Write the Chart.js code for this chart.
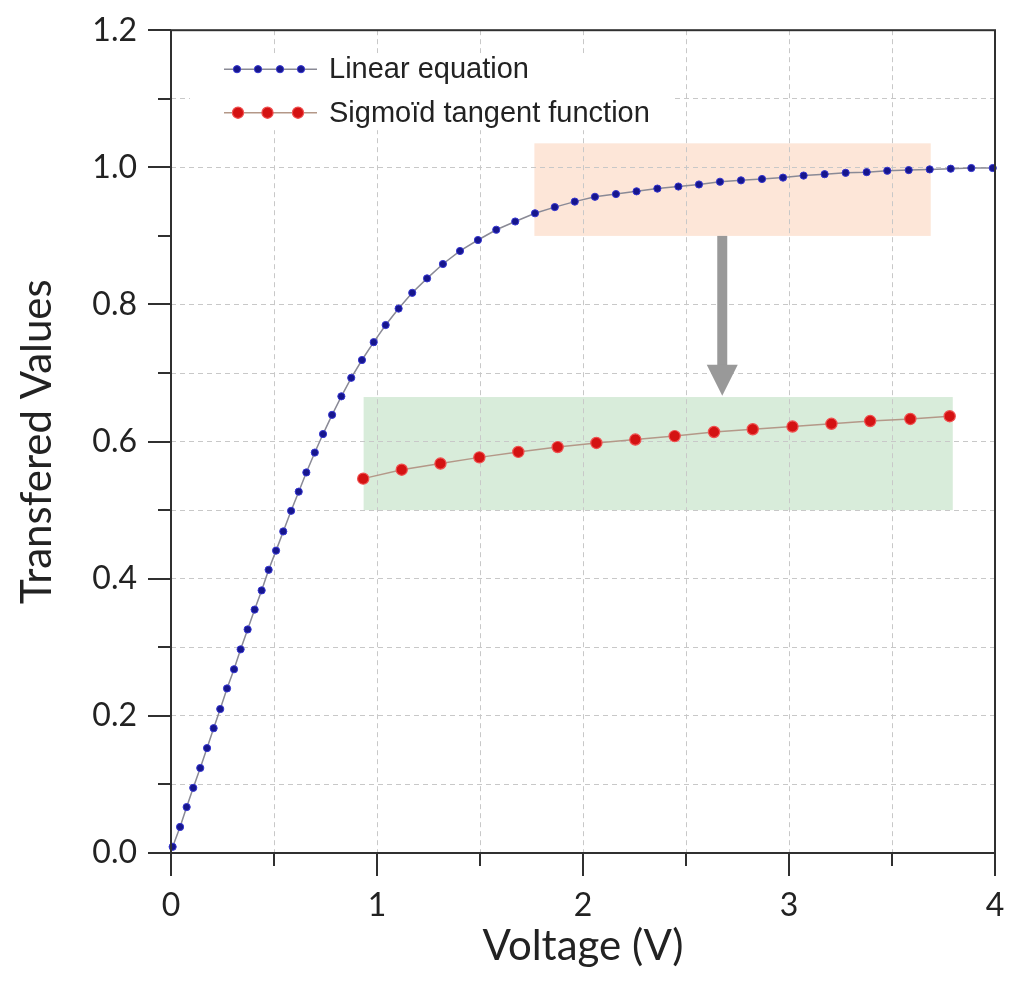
<!DOCTYPE html>
<html>
<head>
<meta charset="utf-8">
<script src="https://cdn.jsdelivr.net/npm/chart.js@4.4.0/dist/chart.umd.min.js"></script>
<style>
  html, body { margin: 0; padding: 0; background: #fff; }
  #wrap { width: 1024px; height: 988px; }
</style>
</head>
<body>
<div id="wrap"><canvas id="chart" width="1024" height="988"></canvas></div>
<script>
// values
const linX = [0.008, 0.044, 0.076, 0.108, 0.142, 0.175, 0.207, 0.239, 0.272, 0.306,
              0.338, 0.372, 0.406, 0.440, 0.474, 0.510, 0.545, 0.583, 0.620, 0.657,
              0.698, 0.738, 0.782, 0.827, 0.875, 0.927, 0.984, 1.042, 1.105, 1.171,
              1.243, 1.320, 1.403, 1.490, 1.579, 1.671, 1.767, 1.863, 1.960, 2.058,
              2.160, 2.260, 2.361, 2.463, 2.563, 2.665, 2.767, 2.869, 2.971, 3.071,
              3.173, 3.275, 3.377, 3.477, 3.581, 3.683, 3.785, 3.885, 3.989];
const linY = [0.009, 0.038, 0.067, 0.095, 0.124, 0.153, 0.182, 0.210, 0.240, 0.268,
              0.297, 0.326, 0.355, 0.383, 0.413, 0.441, 0.469, 0.499, 0.527, 0.555,
              0.584, 0.611, 0.639, 0.666, 0.693, 0.719, 0.745, 0.770, 0.794, 0.817,
              0.838, 0.859, 0.878, 0.894, 0.909, 0.921, 0.933, 0.942, 0.950, 0.957,
              0.961, 0.965, 0.969, 0.972, 0.975, 0.979, 0.981, 0.983, 0.985, 0.988,
              0.990, 0.992, 0.993, 0.995, 0.996, 0.997, 0.998, 0.999, 0.999];

const tanX = [0.933, 1.120, 1.308, 1.497, 1.686, 1.877, 2.065, 2.254, 2.445, 2.636,
              2.824, 3.017, 3.206, 3.394, 3.589, 3.780];
const tanY = [0.546, 0.559, 0.568, 0.577, 0.585, 0.592, 0.598, 0.603, 0.608, 0.614,
              0.618, 0.622, 0.626, 0.630, 0.633, 0.637];

const seriesNames = ['Linear equation', 'Sigmoïd tangent function'];
const xTickLabels = ['0', '1', '2', '3', '4'];
const yTickLabels = ['0.0', '0.2', '0.4', '0.6', '0.8', '1.0', '1.2'];

// shaded regions in data units: [xMin, xMax, yMin, yMax]
const saturationBox = [1.764, 3.688, 0.900, 1.035];
const mappedBox = [0.935, 3.795, 0.500, 0.665];
// arrow: x, yFrom, yTo
const arrowSpec = [2.676, 0.900, 0.667];

const toPoints = (xs, ys) => xs.map((v, i) => ({ x: v, y: ys[i] }));

// boxes, arrow, frame, tick marks and the in-plot legend
const decorPlugin = {
  id: 'decor',
  beforeDraw(chart) {
    const { ctx, scales: { x, y } } = chart;
    const fillBox = (b, color) => {
      const l = x.getPixelForValue(b[0]), r = x.getPixelForValue(b[1]);
      const t = y.getPixelForValue(b[3]), btm = y.getPixelForValue(b[2]);
      ctx.fillStyle = color;
      ctx.fillRect(l, t, r - l, btm - t);
    };
    ctx.save();
    fillBox(saturationBox, '#fde6d8');
    fillBox(mappedBox, '#d8ecda');
    ctx.restore();
  },
  beforeDatasetsDraw(chart) {
    const { ctx, scales: { x, y } } = chart;
    const ax = x.getPixelForValue(arrowSpec[0]);
    const a0 = y.getPixelForValue(arrowSpec[1]);
    const a1 = y.getPixelForValue(arrowSpec[2]);
    const head = 31;
    ctx.save();
    ctx.fillStyle = '#999999';
    ctx.fillRect(ax - 5, a0, 10, a1 - a0 - head + 1);
    ctx.beginPath();
    ctx.moveTo(ax - 15.5, a1 - head);
    ctx.lineTo(ax + 15.5, a1 - head);
    ctx.lineTo(ax, a1);
    ctx.closePath();
    ctx.fill();
    ctx.restore();
  },
  afterDraw(chart) {
    const { ctx, chartArea: ca, scales: { x, y } } = chart;
    ctx.save();

    // legend with white background
    ctx.fillStyle = '#ffffff';
    ctx.fillRect(ca.left + 19, ca.top + 23, 483, 77);
    const rows = [ca.top + 39, ca.top + 82.5];
    const dotOffsets = [[13, 34, 56, 77], [14, 43.5, 74]];
    chart.data.datasets.forEach((ds, i) => {
      const ry = rows[i];
      ctx.strokeStyle = ds.borderColor;
      ctx.lineWidth = ds.borderWidth;
      ctx.beginPath();
      ctx.moveTo(ca.left + 53, ry);
      ctx.lineTo(ca.left + 146, ry);
      ctx.stroke();
      dotOffsets[i].forEach(o => {
        ctx.beginPath();
        ctx.arc(ca.left + 53 + o, ry, ds.pointRadius, 0, Math.PI * 2);
        ctx.fillStyle = ds.pointBackgroundColor;
        ctx.fill();
        ctx.lineWidth = ds.pointBorderWidth;
        ctx.strokeStyle = ds.pointBorderColor;
        ctx.stroke();
      });
      ctx.fillStyle = '#222';
      ctx.font = '29px "Liberation Sans", Arial, sans-serif';
      ctx.textBaseline = 'middle';
      ctx.textAlign = 'left';
      ctx.fillText(ds.label, ca.left + 158, ry + 1);
    });

    // frame
    ctx.strokeStyle = '#303030';
    ctx.lineWidth = 2;
    ctx.strokeRect(ca.left, ca.top, ca.right - ca.left, ca.bottom - ca.top);

    // outward tick marks, long at labelled values
    ctx.beginPath();
    x.ticks.forEach(t => {
      const px = Math.round(x.getPixelForValue(t.value));
      const len = t.value % 1 === 0 ? 23 : 13;
      ctx.moveTo(px, ca.bottom);
      ctx.lineTo(px, ca.bottom + len);
    });
    y.ticks.forEach(t => {
      const py = Math.round(y.getPixelForValue(t.value));
      const len = Math.round(t.value * 10) % 2 === 0 ? 23 : 13;
      ctx.moveTo(ca.left, py);
      ctx.lineTo(ca.left - len, py);
    });
    ctx.stroke();
    ctx.restore();
  }
};

const gridColor = '#c8c8c8';
const hidden = 'rgba(0,0,0,0)';

new Chart(document.getElementById('chart'), {
  type: 'scatter',
  data: {
    datasets: [
      {
        label: seriesNames[0],
        data: toPoints(linX, linY),
        showLine: true,
        borderColor: '#8a8a96',
        borderWidth: 1.5,
        pointRadius: 3.6,
        pointBackgroundColor: '#16168c',
        pointBorderColor: '#3535d0',
        pointBorderWidth: 1,
        clip: false
      },
      {
        label: seriesNames[1],
        data: toPoints(tanX, tanY),
        showLine: true,
        borderColor: '#b49888',
        borderWidth: 1.5,
        pointRadius: 5.6,
        pointBackgroundColor: '#d41212',
        pointBorderColor: '#f05050',
        pointBorderWidth: 1.2,
        clip: false
      }
    ]
  },
  options: {
    responsive: false,
    animation: false,
    devicePixelRatio: 1,
    layout: { padding: { top: 30, right: 29, left: 0, bottom: 0 } },
    plugins: {
      legend: { display: false },
      tooltip: { enabled: false }
    },
    scales: {
      x: {
        type: 'linear',
        min: 0,
        max: 4,
        afterFit: s => { s.height = 135; },
        border: { display: false, dash: [5, 4] },
        grid: { drawTicks: true, tickLength: 23, tickColor: hidden, color: gridColor, lineWidth: 1 },
        ticks: {
          stepSize: 0.5,
          autoSkip: false,
          maxRotation: 0,
          padding: 10,
          color: '#222',
          font: { family: 'Lato', size: 32 },
          callback: v => (v % 1 === 0 ? xTickLabels[v] : '')
        },
        title: {
          display: true,
          text: 'Voltage (V)',
          color: '#222',
          font: { family: 'Lato', size: 42 },
          padding: { top: 0, bottom: 16 }
        }
      },
      y: {
        type: 'linear',
        min: 0,
        max: 1.2,
        afterFit: s => { s.width = 171; },
        border: { display: false, dash: [5, 4] },
        grid: {
          drawTicks: true,
          tickLength: 23,
          tickColor: hidden,
          lineWidth: 1,
          color: c => (Math.round(c.tick.value * 10) === 9 ? hidden : gridColor)
        },
        ticks: {
          stepSize: 0.1,
          autoSkip: false,
          padding: 11,
          color: '#222',
          font: { family: 'Lato', size: 32 },
          callback: v => {
            const k = Math.round(v * 10);
            return k % 2 === 0 ? yTickLabels[k / 2] : '';
          }
        },
        title: {
          display: true,
          text: 'Transfered Values',
          color: '#222',
          font: { family: 'Lato', size: 42 },
          padding: { top: 12, bottom: 0 }
        }
      }
    }
  },
  plugins: [decorPlugin]
});
</script>
</body>
</html>
